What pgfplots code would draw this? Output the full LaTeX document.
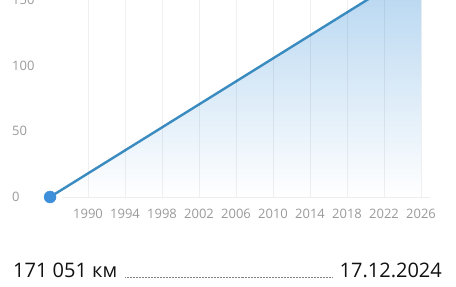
\documentclass[border=0pt]{standalone}
\usepackage{pgfplots}
\pgfplotsset{compat=1.18}
\usepackage{fontspec}
\setmainfont{Open Sans}
\definecolor{linec}{HTML}{3A8BC0}
\definecolor{dotc}{HTML}{3D8FD9}
\definecolor{tickc}{HTML}{9A9A9A}
\definecolor{basec}{HTML}{EEEEEE}
\definecolor{fillc}{HTML}{B3D4F0}
\definecolor{textc}{HTML}{111111}
\begin{document}
\begin{tikzpicture}[x=1pt,y=1pt]
\useasboundingbox (0,0) rectangle (456,287);
\clip (0,0) rectangle (456,287);
\begin{axis}[
  at={(62pt,90pt)}, anchor=south west,
  width=368pt, height=197pt, scale only axis,
  xmin=1987.19, xmax=2026.97, ymin=0, ymax=150,
  clip=false, axis on top,
  axis line style={draw=none},
  tick style={draw=none},
  xtick={1990,1994,...,2026}, ytick={0,50,100,150},
  xmajorgrids,
  grid style={black, opacity=0.06, line width=0.8pt},
  /pgf/number format/1000 sep={},
  /pgf/number format/assume math mode=true,
  ticklabel style={font=\fontsize{13}{15}\selectfont, text=tickc},
  xticklabel style={anchor=center, yshift=-17pt},
  yticklabel style={anchor=west, inner sep=0pt, xshift=-50pt},
]
\draw[basec, line width=0.8pt] (axis cs:1987.19,0) -- (axis cs:2026.97,0);
\addplot[draw=none, shade, top color=fillc, bottom color=white] coordinates {(1985.9,0) (2024.96,171.051) (2026,171.051)} \closedcycle;
\addplot[linec, line width=2.4pt] coordinates {(1985.9,0) (2024.96,171.051)};
\addplot[only marks, mark=*, mark size=6pt, dotc] coordinates {(1985.9,0)};
\end{axis}
\node[anchor=base west, inner sep=0pt, text=textc, font=\fontsize{20}{24}\selectfont] at (13,9.5) {171 051 км};
\node[anchor=base east, inner sep=0pt, text=textc, font=\fontsize{20}{24}\selectfont] at (442,9.5) {17.12.2024};
\draw[gray, line width=0.6pt, dash pattern=on 0.6pt off 0.9pt] (125,10) -- (333,10);
\end{tikzpicture}
\end{document}
